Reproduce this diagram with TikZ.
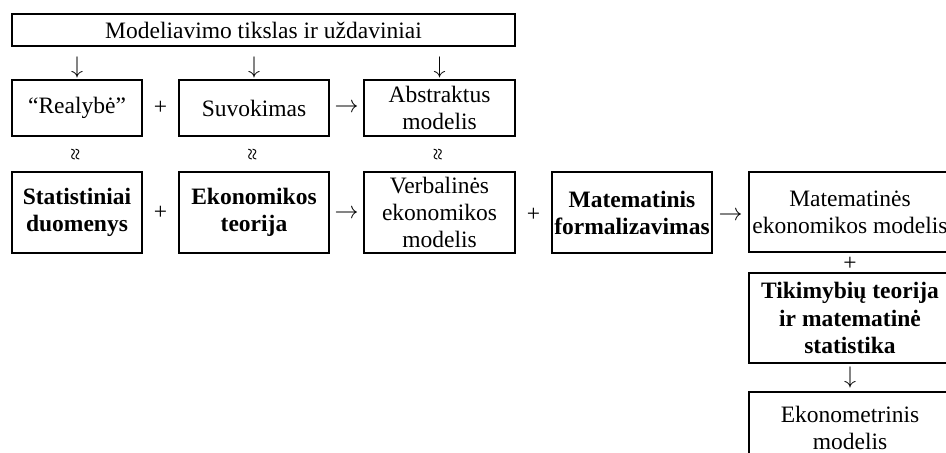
\documentclass[tikz,border=0pt]{standalone}
\usepackage{fontspec}
\setmainfont{Liberation Serif}
\usetikzlibrary{calc}

\tikzset{
  box/.style={draw, line width=1.3pt, align=center, inner sep=0pt,
    font=\fontsize{11.75}{13.5}\selectfont},
  boldbox/.style={box, font=\fontsize{11.75}{13.5}\selectfont\bfseries},
  sym/.style={inner sep=0pt, font=\fontsize{11.75}{13.5}\selectfont},
  approxsym/.style={inner sep=0pt, font=\fontsize{11}{12}\selectfont},
}

\begin{document}
\begin{tikzpicture}[x=0.5pt, y=-0.5pt]
    \useasboundingbox (0,0) rectangle (946,452);

    % Goal on top
    \node[box, minimum width=251.5pt, minimum height=16pt] (goal) at (263.5,30) {Modeliavimo tikslas ir uždaviniai};

    % First row
    \node[box, minimum width=65pt, minimum height=28pt] (real) at (77,108) {“Realybė”};
    \node[box, minimum width=75pt, minimum height=28pt] (perc) at (254,108) {Suvokimas};
    \node[box, minimum width=75.5pt, minimum height=28pt] (abstr) at (439.5,108) {Abstraktus\\modelis};

    % Second row
    \node[boldbox, minimum width=65pt, minimum height=40.5pt] (data) at (77,212.5) {Statistiniai\\duomenys};
    \node[boldbox, minimum width=75pt, minimum height=40.5pt] (theory) at (254,212.5) {Ekonomikos\\teorija};
    \node[box, minimum width=75.5pt, minimum height=40.5pt] (verbal) at (439.5,212.5) {Verbalinės\\ekonomikos\\modelis};
    \node[boldbox, minimum width=80pt, minimum height=40.5pt] (formal) at (632,212.5) {Matematinis\\formalizavimas};
    \node[box, minimum width=101pt, minimum height=40pt] (mathmod) at (850,212) {Matematinės\\ekonomikos modelis};

    % Right column
    \node[boldbox, minimum width=101pt, minimum height=45pt, font=\fontsize{11.75}{13.75}\selectfont\bfseries] (prob) at (850,318) {Tikimybių teorija\\ir matematinė\\statistika};
    \node[box, minimum width=101pt, minimum height=35.5pt] (econom) at (850,427.5) {Ekonometrinis\\modelis};

    % Arrows from the goal
    \node[sym] (g1) at ($(goal.south -| real)!0.65!(real.north)$) {$\downarrow$};
    \node[sym] (g2) at ($(goal.south -| perc)!0.65!(perc.north)$) {$\downarrow$};
    \node[sym] (g3) at ($(goal.south -| abstr)!0.65!(abstr.north)$) {$\downarrow$};

    % Signs in the first row
    \node[sym] (p1) at ($(real.east)!0.5!(perc.west)$) {+};
    \node[sym] (r1) at ($(perc.east)!0.5!(abstr.west)$) {$\rightarrow$};

    % Correspondence between the rows
    \node[approxsym] (e1) at ($(real.south)!0.5!(data.north)$) {\rotatebox{90}{≈}};
    \node[approxsym] (e2) at ($(perc.south)!0.5!(theory.north)$) {\rotatebox{90}{≈}};
    \node[approxsym] (e3) at ($(abstr.south)!0.5!(verbal.north)$) {\rotatebox{90}{≈}};

    % Signs in the second row
    \node[sym] (p2) at ($(data.east)!0.5!(theory.west)$) {+};
    \node[sym] (r2) at ($(theory.east)!0.5!(verbal.west)+(0,2)$) {$\rightarrow$};
    \node[sym] (p3) at ($(verbal.east)!0.5!(formal.west)+(0,2)$) {+};
    \node[sym] (r3) at ($(formal.east)!0.5!(mathmod.west)+(0,4)$) {$\rightarrow$};

    % Signs in the right column
    \node[sym] (p4) at ($(mathmod.south)!0.55!(prob.north)$) {+};
    \node[sym] (d4) at ($(prob.south)!0.5!(econom.north)$) {$\downarrow$};
\end{tikzpicture}
\end{document}
